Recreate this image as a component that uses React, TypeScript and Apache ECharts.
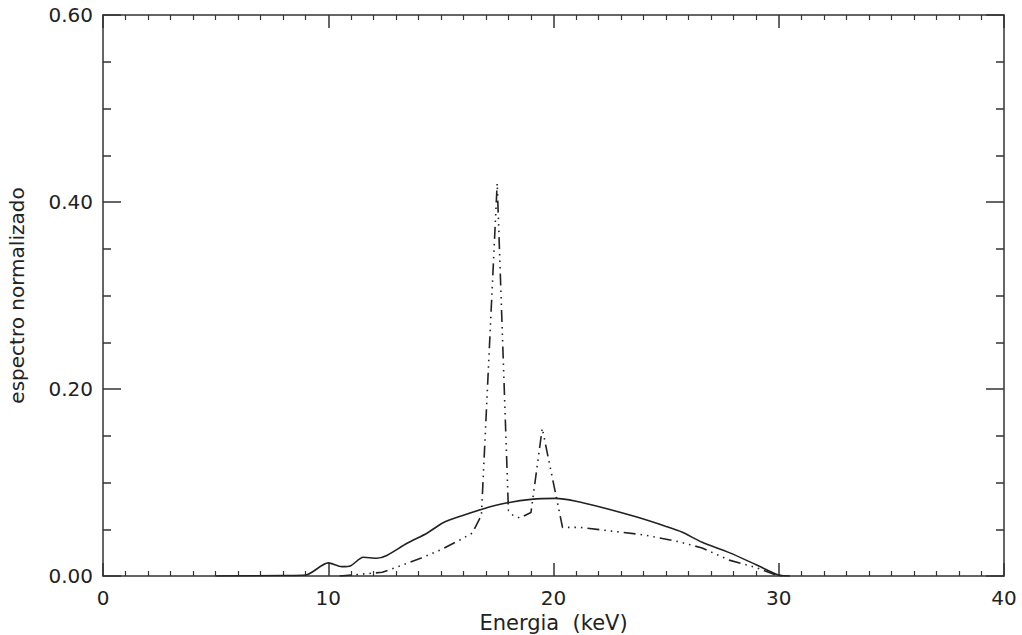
import React, { useEffect, useRef } from "react";
import * as echarts from "echarts";

const xTitle = "Energia  (keV)";
const yTitle = "espectro normalizado";

const solidX = [5, 8, 9.0, 10.0, 10.6, 11.0, 11.55, 12.15, 12.6, 13.5, 14.4, 15.1, 16.0, 16.9, 17.9, 19.0, 20.1, 21.0, 22.2, 23.7, 25.0, 25.7, 26.6, 27.8, 29.0, 30.0, 30.5];
const solidY = [0, 0.0005, 0.001, 0.014, 0.010, 0.011, 0.020, 0.019, 0.022, 0.035, 0.046, 0.057, 0.065, 0.072, 0.078, 0.082, 0.083, 0.080, 0.073, 0.063, 0.053, 0.047, 0.036, 0.025, 0.012, 0.001, 0];

const dashX = [10.5, 11.5, 12.4, 13.0, 14.1, 15.0, 15.8, 16.4, 16.8, 17.5, 18.0, 18.2, 18.5, 19.0, 19.5, 20.4, 21.2, 22.6, 24.0, 25.5, 26.6, 27.8, 29.0, 30.0, 30.3];
const dashY = [0, 0.002, 0.004, 0.009, 0.019, 0.028, 0.038, 0.046, 0.065, 0.42, 0.07, 0.065, 0.062, 0.068, 0.158, 0.052, 0.052, 0.048, 0.044, 0.037, 0.030, 0.017, 0.009, 0, 0];

const FONT = "DejaVu Sans";
const AXIS_COLOR = "#333";
const TEXT_COLOR = "#222";

function xAxisDef(pos: "bottom" | "top", showLabel: boolean) {
  return {
    type: "value",
    position: pos,
    min: 0,
    max: 40,
    interval: 10,
    name: showLabel ? xTitle : "",
    nameLocation: "middle",
    nameGap: 30,
    nameTextStyle: { fontFamily: FONT, fontSize: 21, color: TEXT_COLOR, verticalAlign: "top" },
    axisLine: { show: true, onZero: false, lineStyle: { color: AXIS_COLOR, width: 1.5 } },
    axisTick: { show: true, inside: true, length: 13, lineStyle: { color: AXIS_COLOR, width: 1.5 } },
    minorTick: { show: true, splitNumber: 10, length: 5, lineStyle: { color: AXIS_COLOR, width: 1.2 } },
    axisLabel: { show: showLabel, margin: 12, fontFamily: FONT, fontSize: 20, color: TEXT_COLOR },
    splitLine: { show: false },
  };
}

function yAxisDef(pos: "left" | "right", showLabel: boolean) {
  return {
    type: "value",
    position: pos,
    min: 0,
    max: 0.6,
    interval: 0.2,
    name: showLabel ? yTitle : "",
    nameLocation: "middle",
    nameGap: 76,
    nameRotate: 90,
    nameTextStyle: { fontFamily: FONT, fontSize: 20, color: TEXT_COLOR },
    axisLine: { show: true, onZero: false, lineStyle: { color: AXIS_COLOR, width: 1.5 } },
    axisTick: { show: true, inside: true, length: 18, lineStyle: { color: AXIS_COLOR, width: 1.5 } },
    minorTick: { show: true, splitNumber: 4, length: 8, lineStyle: { color: AXIS_COLOR, width: 1.5 } },
    axisLabel: {
      show: showLabel,
      margin: 10,
      fontFamily: FONT,
      fontSize: 20,
      color: TEXT_COLOR,
      formatter: (v: number) => v.toFixed(2),
    },
    splitLine: { show: false },
  };
}

export default function App() {
  const ref = useRef<HTMLDivElement>(null);
  useEffect(() => {
    if (!ref.current) return;
    const chart = echarts.init(ref.current, undefined, { renderer: "svg" });
    chart.setOption({
      animation: false,
      backgroundColor: "#fff",
      grid: { left: 103, right: 18, top: 15, bottom: 59, containLabel: false, outerBoundsMode: "none" },
      xAxis: [xAxisDef("bottom", true), xAxisDef("top", false)],
      yAxis: [yAxisDef("left", true), yAxisDef("right", false)],
      series: [
        {
          type: "line",
          xAxisIndex: 0,
          yAxisIndex: 0,
          data: solidX.map((x, i) => [x, solidY[i]]),
          showSymbol: false,
          symbol: "none",
          smooth: 0.25,
          lineStyle: { color: "#222", width: 1.6, type: "solid" },
        },
        {
          type: "line",
          xAxisIndex: 0,
          yAxisIndex: 0,
          data: dashX.map((x, i) => [x, dashY[i]]),
          showSymbol: false,
          symbol: "none",
          lineStyle: { color: "#222", width: 1.6, type: [12, 5, 1.5, 5, 1.5, 5, 1.5, 5] },
        },
      ],
    });
    return () => chart.dispose();
  }, []);
  return (
    <div
      ref={ref}
      style={{ width: 1022, height: 635, position: "absolute", left: 0, top: 0 }}
    />
  );
}
